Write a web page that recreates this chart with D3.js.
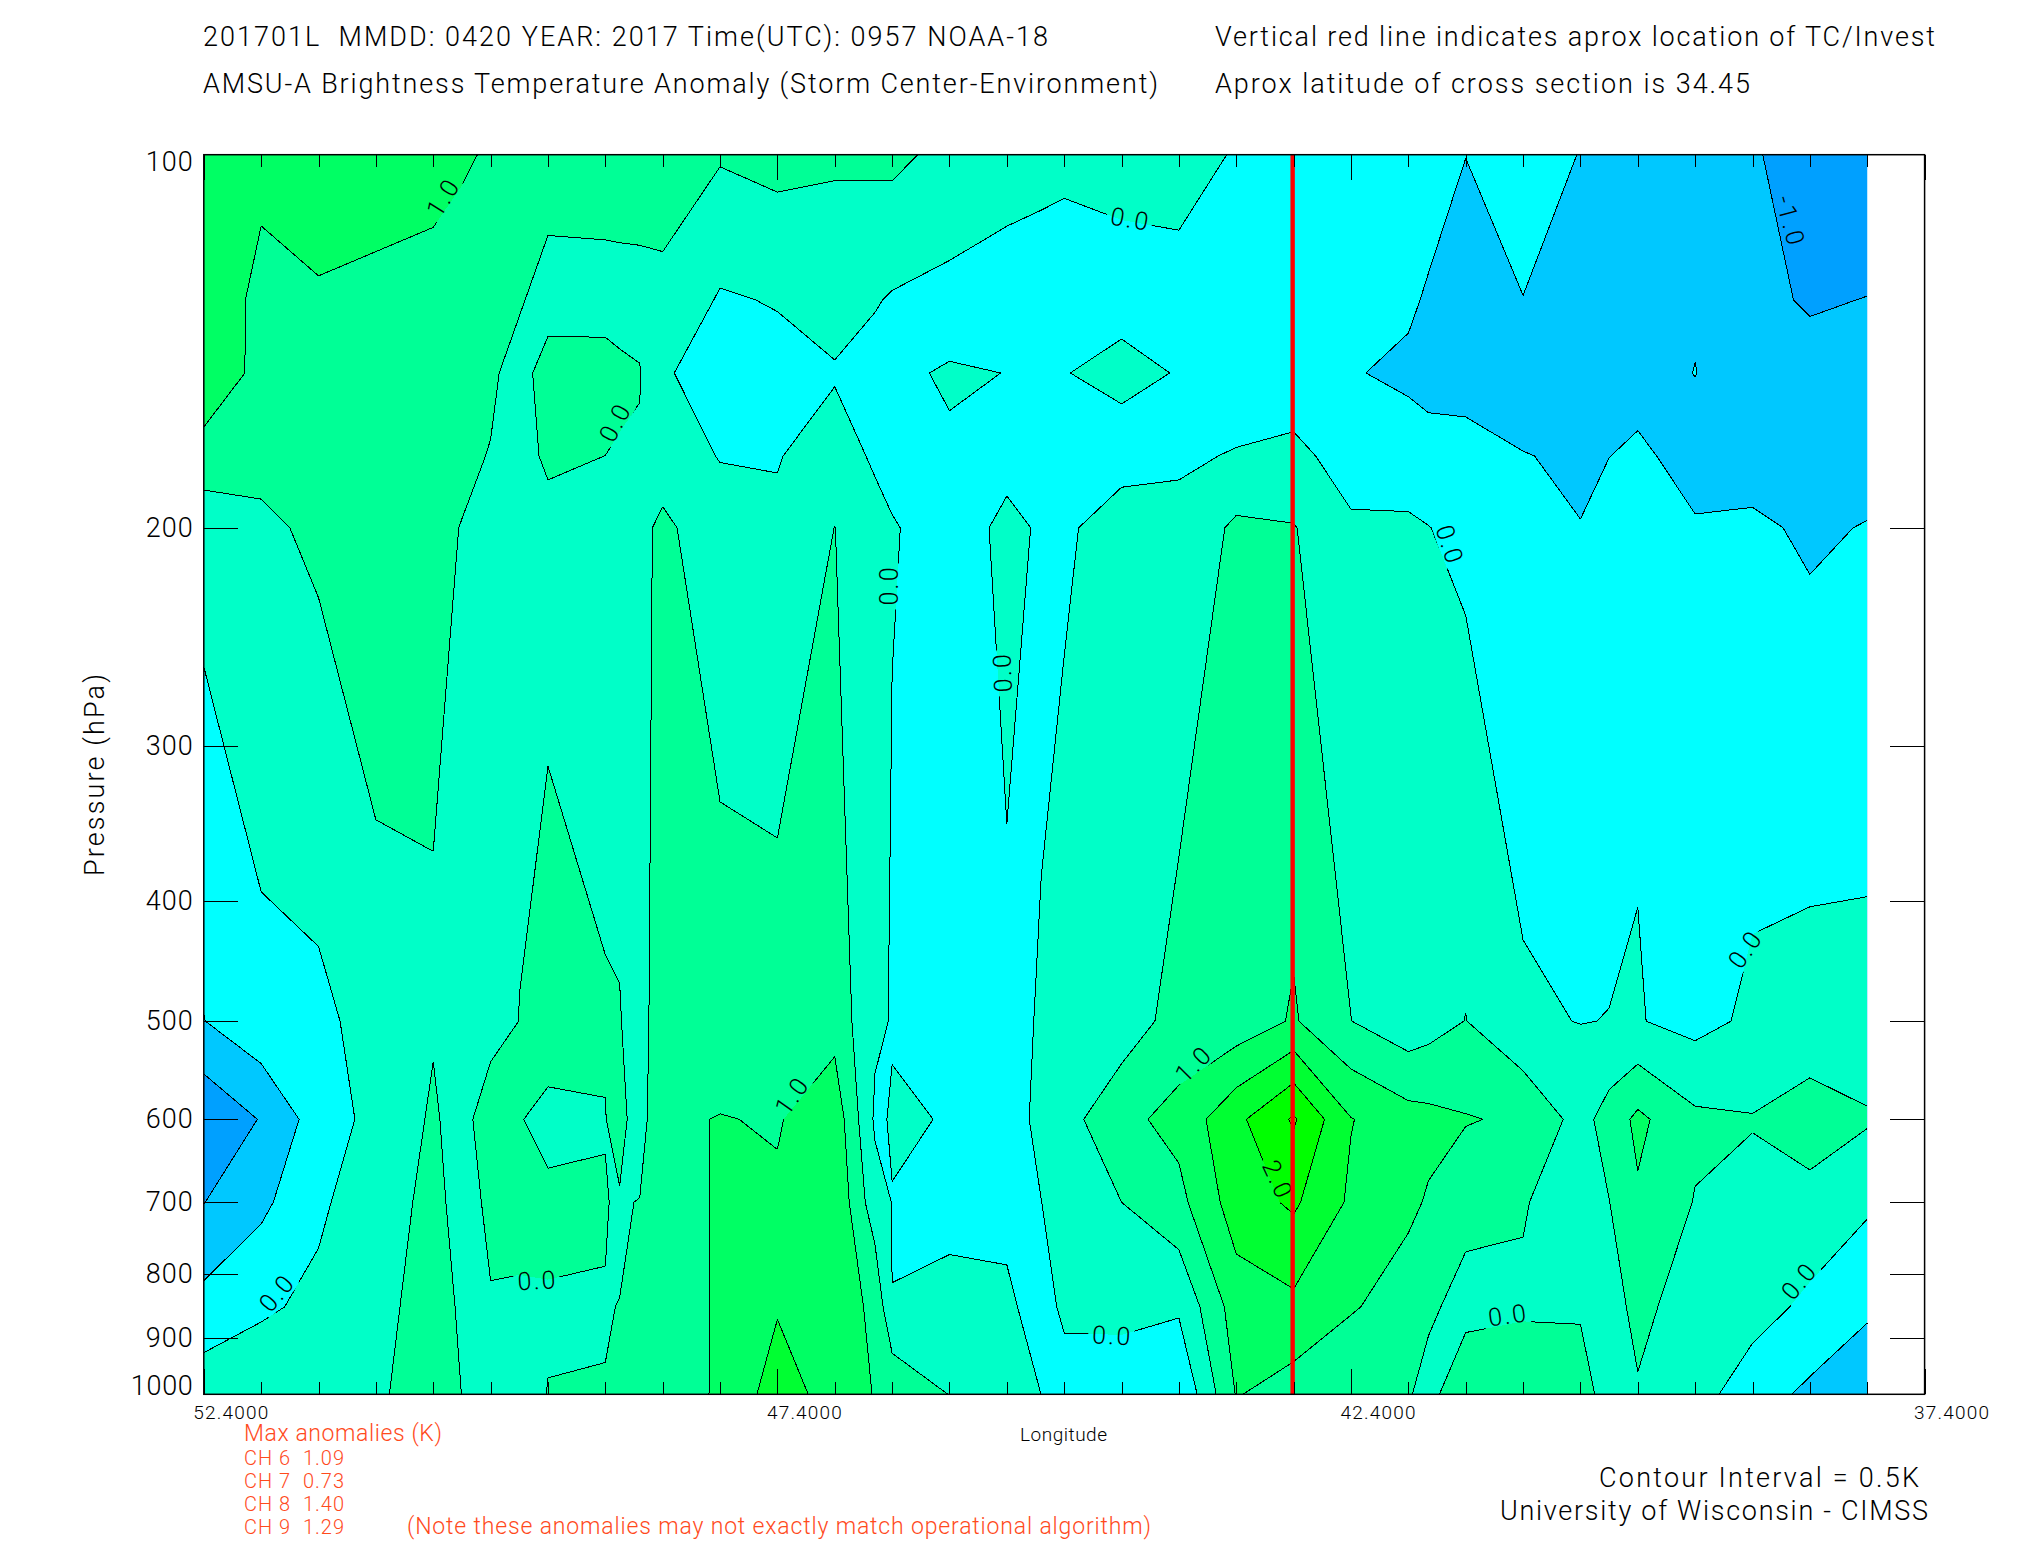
<!DOCTYPE html>
<html>
<head>
<meta charset="utf-8">
<script src="https://d3js.org/d3.v7.min.js"></script>
<style>
html, body { margin: 0; padding: 0; background: #fff; }
text { font-family: Roboto, "Liberation Sans", sans-serif; font-weight: 300; fill: #000; }
.red { fill: #ff4a1c; }
</style>
</head>
<body>
<div id="chart"></div>
<script>
var width = 2025,
    height = 1550;

// longitude of each grid column, degrees
var lons = [52.4, 51.9, 51.4, 50.9, 50.4, 50.15, 49.9, 49.65, 49.4, 48.9, 48.775, 48.6, 48.4, 47.9, 47.4, 46.9, 46.55, 46.4, 45.9, 45.4, 45.1, 44.9, 44.4, 43.9, 43.4, 42.9, 42.4, 41.9, 41.725, 41.4, 40.9, 40.4, 40.15, 39.9, 39.4, 38.9, 38.4, 37.9];

// anomaly (K) along each pressure level
var t100 = [1.35, 1.15, 1.19, 1.12, 1.2, 1.07, .94, .93, .70, .735, .73, .715, .7, .55, .663, .561, .60, .62, .35, .3, .21, .15, .093, .08, -.016, -.05, -.1, -.1, -.237, -.49, -.2, -.52, -.61, -.7, -.85, -.95, -1.23, -1.35];
var t131 = [1.41, .844, .962, .94, .8, .74, .68, .54, .34, .334, .35, .37, .40, -.05, .03, .22, .035, -.044, -.131, -.31, -.34, -.35, -.114, -.074, -.2, -.2, -.2, -.417, -.56, -.89, -.51, -.7, -.725, -.75, -.56, -.9, -1.04, -.99];
var t150 = [1.43, .83, .85, .85, .75, .655, .56, .36, .66, .66, .574, .52, .08, -.315, -.16, -.048, -.17, -.046, .025, -.003, -.013, -.012, .1, -.019, -.2, -.15, -.465, -.6, -.735, -.8, -.9, -.85, -.775, -.7, -.49, -.8, -.863, -.8];
var t175 = [.77, .65, .72, .91, .67, .57, .485, .39, .55, .499, .47, .464, .34, -.03, -.027, .243, -.07, -.044, -.03, -.034, -.074, -.1, -.168, -.05, .023, .062, -.1, -.25, -.244, -.234, -.475, -.6, -.506, -.412, -.68, -.7, -.8, -.7];
var t200 = [.2, .40, .6, .967, .58, .49, .42, .41, .40, .32, .38, .418, .567, .3, .087, .505, .173, .01, -.06, .027, -.012, -.073, .218, .1, .6, .53, .035, .073, .009, -.11, -.3, -.486, -.28, -.085, -.457, -.42, -.57, -.477];
var t500 = [-.51, -.142, -.107, .178, .458, .364, .27, .505, .607, .528, .51, .4, .65, .66, .744, .813, .08, -.024, -.2, -.018, .005, .208, .222, .7, .7, 1.05, .505, .19, .302, .51, .059, -.0104, .0076, .0255, -.15, .09, .172, .161];
var t600 = [-1.42, -.97, -.26, .15, .56, .3, .826, .51, .447, .492, .62, .3, .91, 1.02, .96, 1.33, -.069, .03, -.012, -.2, .108, .313, .863, 1.16, 1.88, 2.56, 1.52, 1.19, 1.134, 1.03, .93, .316, .713, 1.11, .6, .526, .74, .552];
var t700 = [-1.01, -.61, -.09, .32, .6, .373, .56, .55, .537, .511, .47, .512, .77, 1.05, 1.07, 1.45, .2, -.01, -.1, -.1, -.004, .2, .5, .858, 1.75, 2.08, 1.42, 1.1, .953, .68, .52, .34, .49, .933, .476, .366, .347, .08];
var t850 = [-.33, -.08, .115, .355, .7, .437, .48, .478, .487, .493, .503, .55, .77, 1.05, 1.458, 1.126, .95, .003, .1, .067, -.15, .073, .09, .07, 1.245, 1.38, 1.05, .76, .6, .3, .46, .45, .3, .633, .253, .2, -.108, -.42];
var t1000 = [.3, .38, .29, .42, .76, .495, .35, .45, .503, .504, .53, .6, .79, 1.05, 1.75, 1.285, .978, .94, .4875, .25, -.002, -.17, -.19, -.48, 1.03, .774, .52, .55, .3, .98, .7, .7, .3, .454, .2, -.28, -.6, -.85];

var levels = [100, 131, 150, 175, 200, 500, 600, 700, 850, 1000];
var rows = [t100, t131, t150, t175, t200, t500, t600, t700, t850, t1000];

// contour levels and the colour of the band above each one
var thresholds = [-1, -.5, 0, .5, 1, 1.5, 2, 2.5];
var bandColors = ["#00c8ff", "#00ffff", "#00ffc8", "#00ff96", "#00ff64", "#00ff32", "#00ff00", "#32ff00"];
var lowestColor = "#00a0ff";

var pressureTicks = [100, 200, 300, 400, 500, 600, 700, 800, 900, 1000];
var lonMajor = [52.4, 47.4, 42.4, 37.4];
var lonMinor = d3.range(0, 31).map(function(i) { return 52.4 - i * .5; });
var stormLon = 42.9;

// text, lon, pressure, angle
var contourLabels = [
    ["1.0", 50.32, 108.4, -58],
    ["0.0", 48.82, 164.6, -62],
    ["0.0", 44.33, 112.6, 10],
    ["0.0", 41.54, 206, 72],
    ["-1.0", 38.57, 112.9, 75],
    ["0.0", 46.43, 223, -90],
    ["0.0", 45.44, 262, -92],
    ["0.0", 49.5, 809, -3],
    ["0.0", 51.77, 829, -50],
    ["1.0", 47.28, 575, -55],
    ["1.0", 43.78, 542, -45],
    ["0.0", 44.49, 896, 3],
    ["2.0", 43.04, 670, 65],
    ["0.0", 41.04, 863, -8],
    ["0.0", 38.5, 811, -50],
    ["0.0", 38.97, 438, -55]
];

var x = d3.scaleLinear().domain([52.4, 37.4]).range([203.8, 1924.6]);
var y = d3.scaleLog().domain([100, 1000]).range([154.7, 1394.3]);

// grid index -> pixel
var colScale = d3.scaleLinear().domain(d3.range(lons.length)).range(lons.map(x)).clamp(true);
var rowScale = d3.scaleLinear().domain(d3.range(levels.length)).range(levels.map(y)).clamp(true);

var svg = d3.select("#chart").append("svg")
    .attr("width", width)
    .attr("height", height);

var defs = svg.append("defs");
var mask = defs.append("mask").attr("id", "label-gaps").attr("maskUnits", "userSpaceOnUse")
    .attr("x", 0).attr("y", 0).attr("width", width).attr("height", height);
mask.append("rect").attr("width", width).attr("height", height).attr("fill", "#fff");

// d3.contours puts value i at i + 0.5
var toPixel = d3.geoTransform({
    point: function(px, py) {
        this.stream.point(colScale(px - .5), rowScale(py - .5));
    }
});
var path = d3.geoPath(toPixel);

var contours = d3.contours()
    .size([lons.length, levels.length])
    .thresholds(thresholds)(d3.merge(rows));

var plot = svg.append("g");

plot.append("rect")
    .attr("x", x(lons[0]))
    .attr("y", y(100))
    .attr("width", x(lons[lons.length - 1]) - x(lons[0]))
    .attr("height", y(1000) - y(100))
    .attr("fill", lowestColor);

plot.selectAll("path.band")
    .data(contours)
    .enter().append("path")
    .attr("class", "band")
    .attr("d", path)
    .attr("fill-rule", "evenodd")
    .attr("shape-rendering", "crispEdges")
    .attr("fill", function(d, i) { return bandColors[i]; });

// contour lines, without the pieces that run along the edge of the grid
function onEdge(a, b) {
    var n = lons.length, m = levels.length;
    return (a[0] <= .5 && b[0] <= .5) || (a[0] >= n - .5 && b[0] >= n - .5) ||
           (a[1] <= .5 && b[1] <= .5) || (a[1] >= m - .5 && b[1] >= m - .5);
}

function linePath(d) {
    var p = d3.path();
    d.coordinates.forEach(function(polygon) {
        polygon.forEach(function(ring) {
            for (var i = 1; i < ring.length; i++) {
                if (onEdge(ring[i - 1], ring[i])) continue;
                p.moveTo(colScale(ring[i - 1][0] - .5), rowScale(ring[i - 1][1] - .5));
                p.lineTo(colScale(ring[i][0] - .5), rowScale(ring[i][1] - .5));
            }
        });
    });
    return p.toString();
}

contourLabels.forEach(function(d) {
    mask.append("rect")
        .attr("x", -23).attr("y", -12).attr("width", 46).attr("height", 24)
        .attr("fill", "#000")
        .attr("transform", "translate(" + x(d[1]) + "," + y(d[2]) + ") rotate(" + d[3] + ")");
});

plot.append("g").attr("mask", "url(#label-gaps)")
    .selectAll("path.line")
    .data(contours)
    .enter().append("path")
    .attr("class", "line")
    .attr("d", linePath)
    .attr("fill", "none")
    .attr("stroke", "#000")
    .attr("stroke-width", 1)
    .attr("shape-rendering", "crispEdges");

plot.selectAll("text.clabel")
    .data(contourLabels)
    .enter().append("text")
    .attr("class", "clabel")
    .attr("transform", function(d) { return "translate(" + x(d[1]) + "," + y(d[2]) + ") rotate(" + d[3] + ")"; })
    .attr("text-anchor", "middle")
    .attr("dy", "0.36em")
    .attr("font-size", 25)
    .attr("textLength", function(d) { return d[0].length == 4 ? 50 : 38; })
    .text(function(d) { return d[0]; });

// storm position
svg.append("line")
    .attr("x1", x(stormLon) - 1).attr("x2", x(stormLon) - 1)
    .attr("y1", y(100)).attr("y2", y(1000))
    .attr("stroke", "#ff0000")
    .attr("stroke-width", 4.4);

// frame and axes
var x0 = x.range()[0], x1 = x.range()[1], y0 = y.range()[0], y1 = y.range()[1];

function tidy(g) {
    g.select(".domain").remove();
    g.selectAll("line").attr("stroke", "#000").attr("stroke-width", 1).attr("shape-rendering", "crispEdges");
}

svg.append("g").attr("transform", "translate(0," + y0 + ")")
    .call(d3.axisTop(x).tickValues(lonMinor).tickSize(-12).tickFormat(""))
    .call(tidy);
svg.append("g").attr("transform", "translate(0," + y0 + ")")
    .call(d3.axisTop(x).tickValues(lonMajor).tickSize(-25).tickFormat(""))
    .call(tidy);
svg.append("g").attr("transform", "translate(0," + y1 + ")")
    .call(d3.axisBottom(x).tickValues(lonMinor).tickSize(-12).tickFormat(""))
    .call(tidy);

var xAxis = svg.append("g").attr("transform", "translate(0," + y1 + ")")
    .call(d3.axisBottom(x).tickValues(lonMajor).tickSize(-25).tickPadding(0).tickFormat(d3.format(".4f")))
    .call(tidy);
xAxis.selectAll("text")
    .attr("text-anchor", "start")
    .attr("dx", -11)
    .attr("y", 25)
    .attr("dy", 0)
    .attr("font-size", 19)
    .attr("font-family", null)
    .attr("textLength", 75);

var yAxis = svg.append("g").attr("transform", "translate(" + x0 + ",0)")
    .call(d3.axisLeft(y).tickValues(pressureTicks).tickSize(-34).tickPadding(11).tickFormat(d3.format("d")))
    .call(tidy);
yAxis.selectAll("text")
    .attr("font-size", 27)
    .attr("textLength", function(d) { return d == 1000 ? 62 : 47; })
    .attr("y", function(d) { return d == 100 ? 7 : d == 1000 ? -8 : 0; });
yAxis.selectAll(".tick").filter(function(d) { return d == 100 || d == 1000; }).select("line").remove();

svg.append("g").attr("transform", "translate(" + x1 + ",0)")
    .call(d3.axisRight(y).tickValues(pressureTicks.slice(1, -1)).tickSize(-35).tickFormat(""))
    .call(tidy);

svg.append("rect")
    .attr("x", x0).attr("y", y0)
    .attr("width", x1 - x0).attr("height", y1 - y0)
    .attr("fill", "none")
    .attr("stroke", "#000")
    .attr("stroke-width", 1.5);

// titles and notes: text, x, baseline, width, size, class
var notes = [
    ["201701L  MMDD: 0420 YEAR: 2017 Time(UTC): 0957 NOAA-18", 203, 46, 845, 27, ""],
    ["AMSU-A Brightness Temperature Anomaly (Storm Center-Environment)", 203, 93, 955, 27, ""],
    ["Vertical red line indicates aprox location of TC/Invest", 1215, 46, 720, 27, ""],
    ["Aprox latitude of cross section is 34.45", 1215, 93, 535, 27, ""],
    ["Longitude", 1020, 1441, 87, 19, ""],
    ["Max anomalies (K)", 244, 1441, 198, 23, "red"],
    ["CH 6  1.09", 244, 1465, 100, 20, "red"],
    ["CH 7  0.73", 244, 1488, 100, 20, "red"],
    ["CH 8  1.40", 244, 1511, 100, 20, "red"],
    ["CH 9  1.29", 244, 1534, 100, 20, "red"],
    ["(Note these anomalies may not exactly match operational algorithm)", 407, 1534, 744, 23, "red"],
    ["Contour Interval = 0.5K", 1599, 1487, 320, 27, ""],
    ["University of Wisconsin - CIMSS", 1500, 1520, 428, 27, ""]
];

svg.selectAll("text.note")
    .data(notes)
    .enter().append("text")
    .attr("class", function(d) { return "note " + d[5]; })
    .attr("x", function(d) { return d[1]; })
    .attr("y", function(d) { return d[2]; })
    .attr("textLength", function(d) { return d[3]; })
    .attr("font-size", function(d) { return d[4]; })
    .style("white-space", "pre")
    .text(function(d) { return d[0]; });

svg.append("text")
    .attr("transform", "translate(104,775) rotate(-90)")
    .attr("text-anchor", "middle")
    .attr("textLength", 202)
    .attr("font-size", 27)
    .text("Pressure (hPa)");
</script>
</body>
</html>
